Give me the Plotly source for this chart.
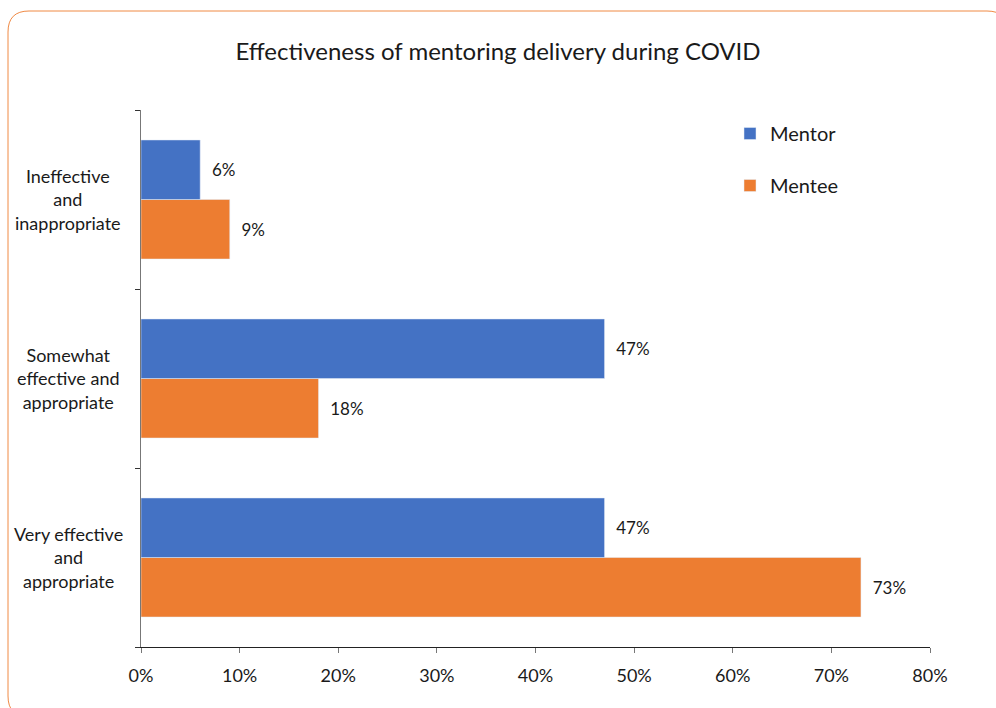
import plotly.graph_objects as go

# ---- data ----
categories = ["Very effective and appropriate",
              "Somewhat effective and appropriate",
              "Ineffective and inappropriate"]
category_labels = ["Very effective<br>and<br>appropriate",
                   "Somewhat<br>effective and<br>appropriate",
                   "Ineffective<br>and<br>inappropriate"]
mentor = [47, 47, 6]
mentee = [73, 18, 9]
x_tick_vals = [0, 10, 20, 30, 40, 50, 60, 70, 80]
x_tick_text = ["0%", "10%", "20%", "30%", "40%", "50%", "60%", "70%", "80%"]

W, H = 996, 708
ML, MR, MT, MB = 141, 66, 110, 61
PW, PH = W - ML - MR, H - MT - MB

def px(x):
    return (x - ML) / PW

def py(y):
    return (H - MB - y) / PH

FONT = "Lato, 'Noto Sans', sans-serif"
TXT = "#1a1a1a"
BLUE = "#4472C4"
ORANGE = "#ED7D31"
pad = "\u00a0\u00a0"

fig = go.Figure()
fig.add_trace(go.Bar(
    name="Mentee", y=categories, x=mentee, orientation="h",
    marker=dict(color=ORANGE), legendgroup="b", legendrank=2,
    texttemplate=pad + "%{x}%", textposition="outside",
    textfont=dict(size=17, color=TXT, family=FONT), cliponaxis=False))
fig.add_trace(go.Bar(
    name="Mentor", y=categories, x=mentor, orientation="h",
    marker=dict(color=BLUE), legendgroup="a", legendrank=1,
    texttemplate=pad + "%{x}%", textposition="outside",
    textfont=dict(size=17, color=TXT, family=FONT), cliponaxis=False))

annotations = []
for c, lab in zip(categories, category_labels):
    annotations.append(dict(
        x=px(68), xref="paper", y=c, yref="y", text=lab, showarrow=False,
        xanchor="center", yanchor="middle", align="center",
        font=dict(size=18, color=TXT, family=FONT)))

# rounded border
x0, y0, x1, y1, r = 8, 11, 1008, 717, 21
pts = (f"M {px(x0 + r)},{py(y0)} L {px(x1 - r)},{py(y0)} "
       f"Q {px(x1)},{py(y0)} {px(x1)},{py(y0 + r)} "
       f"L {px(x1)},{py(y1 - r)} Q {px(x1)},{py(y1)} {px(x1 - r)},{py(y1)} "
       f"L {px(x0 + r)},{py(y1)} Q {px(x0)},{py(y1)} {px(x0)},{py(y1 - r)} "
       f"L {px(x0)},{py(y0 + r)} Q {px(x0)},{py(y0)} {px(x0 + r)},{py(y0)} Z")

fig.update_layout(
    width=W, height=H,
    margin=dict(l=ML, r=MR, t=MT, b=MB, pad=0),
    paper_bgcolor="white", plot_bgcolor="white",
    barmode="group", bargap=0.335, bargroupgap=0,
    font=dict(family=FONT, color=TXT, size=17),
    title=dict(text="Effectiveness of mentoring delivery during COVID",
               x=0.5, xanchor="center", y=1 - 52 / H, yanchor="middle",
               font=dict(size=24, color=TXT, family=FONT)),
    xaxis=dict(range=[0, 80], tickmode="array", tickvals=x_tick_vals,
               ticktext=x_tick_text,
               showgrid=False, zeroline=False,
               showline=True, linecolor="#222222", linewidth=1,
               ticks="outside", ticklen=5, tickcolor="#777777",
               ticklabelstandoff=7,
               tickfont=dict(size=18, color=TXT, family=FONT)),
    yaxis=dict(categoryorder="array", categoryarray=categories,
               showticklabels=False, showgrid=False, zeroline=False,
               showline=True, linecolor="#777777", linewidth=1,
               ticks="outside", ticklen=5, tickcolor="#333333",
               tickson="boundaries"),
    legend=dict(x=px(730), y=py(114), xanchor="left", yanchor="top",
                traceorder="grouped", tracegroupgap=23,
                font=dict(size=20, color=TXT, family=FONT),
                bgcolor="rgba(0,0,0,0)"),
    annotations=annotations,
    shapes=[dict(type="path", xref="paper", yref="paper", path=pts,
                 line=dict(color="#F08A45", width=1), layer="below")],
)

fig.write_html("out.html",
               config={"displayModeBar": False},
               post_script="document.body.style.margin='0px';"
                           "document.body.style.overflow='hidden';")
